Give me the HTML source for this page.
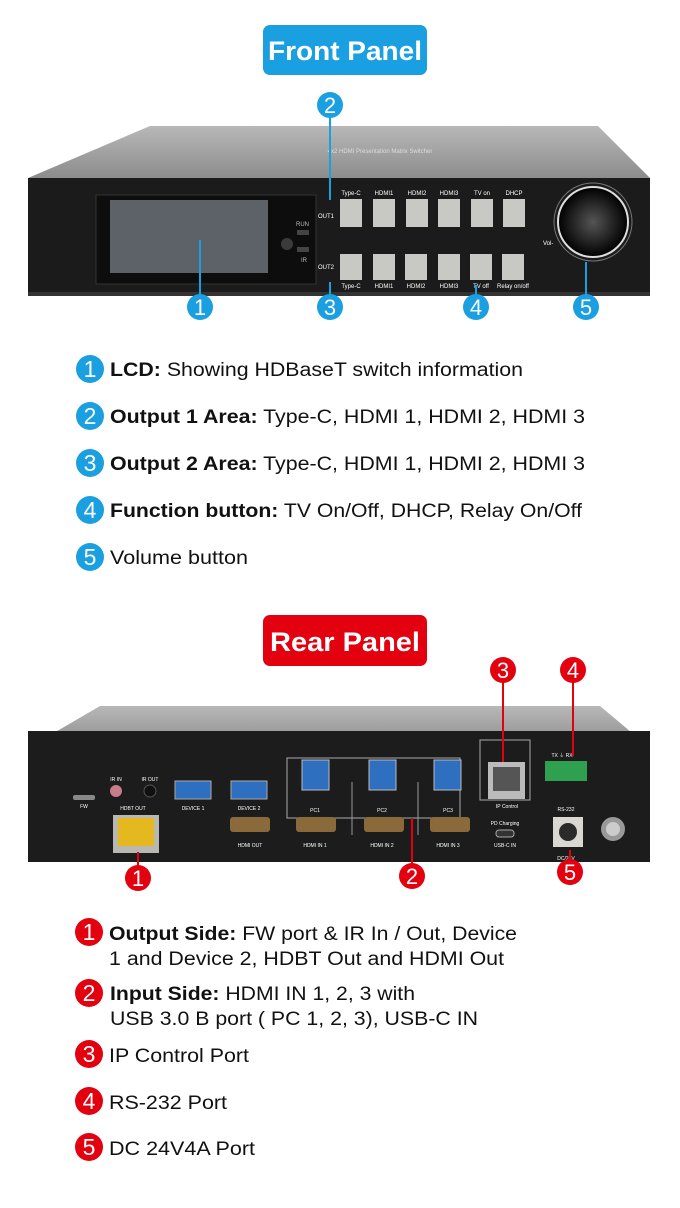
<!DOCTYPE html>
<html><head><style>
html,body{margin:0;padding:0;background:#fff}
svg{display:block}
text{font-family:"Liberation Sans",Arial,sans-serif}
</style></head><body>
<svg width="680" height="1208" viewBox="0 0 680 1208" xmlns="http://www.w3.org/2000/svg">
<defs>
<radialGradient id="knob" cx="50%" cy="50%" r="50%"><stop offset="0" stop-color="#555"/><stop offset="0.8" stop-color="#111"/><stop offset="1" stop-color="#000"/></radialGradient>
<linearGradient id="lid" x1="0" y1="0" x2="0" y2="1"><stop offset="0" stop-color="#b8b8b8"/><stop offset="1" stop-color="#8c8c8c"/></linearGradient>
</defs>
<rect x="263" y="25" width="164" height="50" rx="7" fill="#1a9fe0"/>
<text x="345" y="60" font-size="27" font-weight="bold" fill="#fff" text-anchor="middle" textLength="154" lengthAdjust="spacingAndGlyphs">Front Panel</text>

<polygon points="150,126 598,126 650,178 28,178" fill="url(#lid)"/>
<text x="380" y="153" font-size="6" fill="#ddd" text-anchor="middle">4x2 HDMI Presentation Matrix Switcher</text>
<rect x="28" y="178" width="622" height="118" fill="#1b1b1b"/>
<rect x="28" y="292" width="622" height="4" fill="#333"/>
<rect x="96" y="195" width="220" height="89" fill="#0d0d0d" stroke="#333"/>
<rect x="110" y="200" width="158" height="73" fill="#5d6268"/>
<circle cx="287" cy="244" r="6" fill="#3a3a3a"/>
<rect x="297" y="230" width="12" height="5" fill="#444"/>
<rect x="297" y="247" width="12" height="5" fill="#444"/>
<text x="296" y="226" font-size="6" fill="#bbb">RUN</text>
<text x="301" y="262" font-size="6" fill="#bbb">IR</text>
<text x="326" y="218" font-size="6" fill="#fff" text-anchor="middle">OUT1</text>
<text x="326" y="269" font-size="6" fill="#fff" text-anchor="middle">OUT2</text>
<g fill="#c8c8c4">
<rect x="340" y="199" width="22" height="28"/><rect x="373" y="199" width="22" height="28"/><rect x="406" y="199" width="22" height="28"/><rect x="438" y="199" width="22" height="28"/><rect x="471" y="199" width="22" height="28"/><rect x="503" y="199" width="22" height="28"/>
<rect x="340" y="254" width="22" height="26"/><rect x="373" y="254" width="22" height="26"/><rect x="405" y="254" width="22" height="26"/><rect x="438" y="254" width="22" height="26"/><rect x="470" y="254" width="22" height="26"/><rect x="502" y="254" width="22" height="26"/>
</g>
<g font-size="6" fill="#fff" text-anchor="middle">
<text x="351" y="195">Type-C</text><text x="384" y="195">HDMI1</text><text x="417" y="195">HDMI2</text><text x="449" y="195">HDMI3</text><text x="482" y="195">TV on</text><text x="514" y="195">DHCP</text>
<text x="351" y="288">Type-C</text><text x="384" y="288">HDMI1</text><text x="416" y="288">HDMI2</text><text x="449" y="288">HDMI3</text><text x="481" y="288">TV off</text><text x="513" y="288">Relay on/off</text>
</g>
<circle cx="593" cy="222" r="39" fill="none" stroke="#777" stroke-width="1"/>
<circle cx="593" cy="222" r="35" fill="url(#knob)" stroke="#ddd" stroke-width="2"/>
<text x="543" y="245" font-size="6" fill="#fff">Vol-</text>

<g stroke="#1a9fe0" stroke-width="2">
<line x1="200" y1="240" x2="200" y2="297"/>
<line x1="330" y1="118" x2="330" y2="200"/>
<line x1="330" y1="282" x2="330" y2="297"/>
<line x1="476" y1="285" x2="476" y2="297"/>
<line x1="586" y1="262" x2="586" y2="297"/>
</g>
<g fill="#1a9fe0">
<circle cx="200" cy="307" r="13"/><circle cx="330" cy="105" r="13"/><circle cx="330" cy="307" r="13"/><circle cx="476" cy="307" r="13"/><circle cx="586" cy="307" r="13"/>
</g>
<g fill="#fff" font-size="22" text-anchor="middle">
<text x="200" y="315">1</text><text x="330" y="113">2</text><text x="330" y="315">3</text><text x="476" y="315">4</text><text x="586" y="315">5</text>
</g>

<g fill="#1a9fe0">
<circle cx="90" cy="369" r="14"/><circle cx="90" cy="416" r="14"/><circle cx="90" cy="463" r="14"/><circle cx="90" cy="510" r="14"/><circle cx="90" cy="557" r="14"/>
</g>
<g fill="#fff" font-size="23" text-anchor="middle">
<text x="90" y="377">1</text><text x="90" y="424">2</text><text x="90" y="471">3</text><text x="90" y="518">4</text><text x="90" y="565">5</text>
</g>
<g font-size="19" fill="#111">
<text x="110" y="376" textLength="413" lengthAdjust="spacingAndGlyphs"><tspan font-weight="bold">LCD:</tspan> Showing HDBaseT switch information</text>
<text x="110" y="423" textLength="475" lengthAdjust="spacingAndGlyphs"><tspan font-weight="bold">Output 1 Area:</tspan> Type-C, HDMI 1, HDMI 2, HDMI 3</text>
<text x="110" y="470" textLength="475" lengthAdjust="spacingAndGlyphs"><tspan font-weight="bold">Output 2 Area:</tspan> Type-C, HDMI 1, HDMI 2, HDMI 3</text>
<text x="110" y="517" textLength="472" lengthAdjust="spacingAndGlyphs"><tspan font-weight="bold">Function button:</tspan> TV On/Off, DHCP, Relay On/Off</text>
<text x="110" y="564" textLength="138" lengthAdjust="spacingAndGlyphs">Volume button</text>
</g>

<rect x="263" y="615" width="164" height="51" rx="7" fill="#e3000f"/>
<text x="345" y="651" font-size="27" font-weight="bold" fill="#fff" text-anchor="middle" textLength="150" lengthAdjust="spacingAndGlyphs">Rear Panel</text>

<polygon points="100,706 600,706 650,748 28,748" fill="url(#lid)"/>
<rect x="28" y="731" width="622" height="131" fill="#1c1c1c"/>
<rect x="287" y="758" width="173" height="60" fill="none" stroke="#aaa" stroke-width="1"/>
<rect x="480" y="740" width="50" height="60" fill="none" stroke="#aaa" stroke-width="1"/>
<rect x="73" y="795" width="22" height="5" rx="2" fill="#888"/>
<text x="84" y="808" font-size="5" fill="#fff" text-anchor="middle">FW</text>
<circle cx="116" cy="791" r="6" fill="#c97c8a"/><circle cx="150" cy="791" r="6" fill="#111" stroke="#555"/>
<text x="116" y="781" font-size="5" fill="#fff" text-anchor="middle">IR IN</text>
<text x="150" y="781" font-size="5" fill="#fff" text-anchor="middle">IR OUT</text>
<text x="133" y="810" font-size="5" fill="#fff" text-anchor="middle">HDBT OUT</text>
<rect x="113" y="815" width="46" height="38" fill="#b8b8b0"/>
<rect x="118" y="818" width="36" height="28" fill="#e6b820"/>
<rect x="175" y="781" width="36" height="18" fill="#2f6fc0" stroke="#aaa"/>
<rect x="231" y="781" width="36" height="18" fill="#2f6fc0" stroke="#aaa"/>
<text x="193" y="810" font-size="5" fill="#fff" text-anchor="middle">DEVICE 1</text>
<text x="249" y="810" font-size="5" fill="#fff" text-anchor="middle">DEVICE 2</text>
<rect x="230" y="817" width="40" height="15" rx="3" fill="#8a6a3a"/>
<text x="250" y="847" font-size="5" fill="#fff" text-anchor="middle">HDMI OUT</text>
<g fill="#2f6fc0" stroke="#bbb">
<rect x="302" y="760" width="27" height="30"/><rect x="369" y="760" width="27" height="30"/><rect x="434" y="760" width="27" height="30"/>
</g>
<g font-size="5" fill="#fff" text-anchor="middle">
<text x="315" y="812">PC1</text><text x="382" y="812">PC2</text><text x="448" y="812">PC3</text>
<text x="315" y="847">HDMI IN 1</text><text x="382" y="847">HDMI IN 2</text><text x="448" y="847">HDMI IN 3</text>
<text x="507" y="808">IP Control</text><text x="505" y="825">PD Charging</text><text x="505" y="847">USB-C IN</text>
<text x="562" y="757">TX  ⏚  RX</text><text x="566" y="811">RS-232</text><text x="566" y="860">DC/24V</text>
</g>
<g fill="#8a6a3a"><rect x="296" y="817" width="40" height="15" rx="3"/><rect x="364" y="817" width="40" height="15" rx="3"/><rect x="430" y="817" width="40" height="15" rx="3"/></g>
<line x1="352" y1="782" x2="352" y2="835" stroke="#999"/><line x1="418" y1="782" x2="418" y2="835" stroke="#999"/>
<rect x="496" y="830" width="18" height="7" rx="3" fill="#333" stroke="#aaa"/>
<rect x="488" y="762" width="37" height="37" fill="#bbb"/><rect x="493" y="767" width="27" height="24" fill="#555"/>
<rect x="545" y="761" width="42" height="20" fill="#2fa050"/>
<rect x="553" y="817" width="30" height="30" fill="#d8d8d0"/><circle cx="568" cy="832" r="9" fill="#2a2a2a"/>
<circle cx="613" cy="829" r="12" fill="#999"/><circle cx="613" cy="829" r="7" fill="#ccc"/>

<g stroke="#e3000f" stroke-width="2">
<line x1="138" y1="852" x2="138" y2="866"/>
<line x1="412" y1="818" x2="412" y2="864"/>
<line x1="503" y1="682" x2="503" y2="762"/>
<line x1="573" y1="682" x2="573" y2="756"/>
<line x1="570" y1="850" x2="570" y2="860"/>
</g>
<g fill="#e3000f">
<circle cx="138" cy="878" r="13"/><circle cx="412" cy="876" r="13"/><circle cx="503" cy="670" r="13"/><circle cx="573" cy="670" r="13"/><circle cx="570" cy="872" r="13"/>
</g>
<g fill="#fff" font-size="22" text-anchor="middle">
<text x="138" y="886">1</text><text x="412" y="884">2</text><text x="503" y="678">3</text><text x="573" y="678">4</text><text x="570" y="880">5</text>
</g>

<g fill="#e3000f">
<circle cx="89" cy="932" r="14"/><circle cx="89" cy="993" r="14"/><circle cx="89" cy="1054" r="14"/><circle cx="89" cy="1101" r="14"/><circle cx="89" cy="1147" r="14"/>
</g>
<g fill="#fff" font-size="23" text-anchor="middle">
<text x="89" y="940">1</text><text x="89" y="1001">2</text><text x="89" y="1062">3</text><text x="89" y="1109">4</text><text x="89" y="1155">5</text>
</g>
<g font-size="19" fill="#111">
<text x="109" y="940" textLength="408" lengthAdjust="spacingAndGlyphs"><tspan font-weight="bold">Output Side:</tspan> FW port &amp; IR In / Out, Device</text>
<text x="109" y="965" textLength="395" lengthAdjust="spacingAndGlyphs">1 and Device 2, HDBT Out and HDMI Out</text>
<text x="110" y="1000" textLength="305" lengthAdjust="spacingAndGlyphs"><tspan font-weight="bold">Input Side:</tspan> HDMI IN 1, 2, 3 with</text>
<text x="110" y="1025" textLength="368" lengthAdjust="spacingAndGlyphs">USB 3.0 B port ( PC 1, 2, 3), USB-C IN</text>
<text x="109" y="1062" textLength="140" lengthAdjust="spacingAndGlyphs">IP Control Port</text>
<text x="109" y="1109" textLength="118" lengthAdjust="spacingAndGlyphs">RS-232 Port</text>
<text x="109" y="1155" textLength="146" lengthAdjust="spacingAndGlyphs">DC 24V4A Port</text>
</g>
</svg>
</body></html>
